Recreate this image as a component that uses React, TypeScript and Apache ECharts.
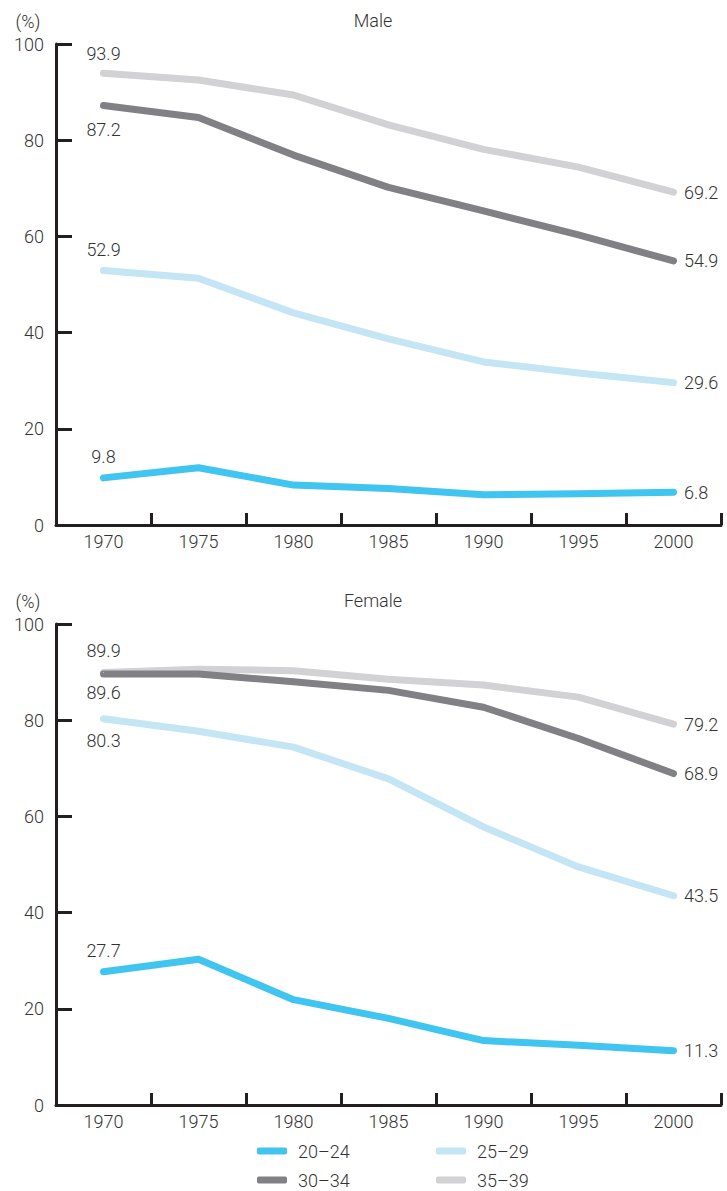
import React, { useEffect, useRef } from "react";
import * as echarts from "echarts";

const years = ["1970", "1975", "1980", "1985", "1990", "1995", "2000"];
const groups = ["20–24", "25–29", "30–34", "35–39"];

const male2024 = [9.8, 11.9, 8.3, 7.6, 6.3, 6.5, 6.8];
const male2529 = [52.9, 51.3, 44.1, 38.7, 33.9, 31.6, 29.6];
const male3034 = [87.2, 84.7, 76.9, 70.2, 65.3, 60.3, 54.9];
const male3539 = [93.9, 92.5, 89.4, 83.2, 78.1, 74.4, 69.2];

const female2024 = [27.7, 30.3, 21.9, 18.0, 13.4, 12.4, 11.3];
const female2529 = [80.3, 77.7, 74.4, 67.8, 57.8, 49.5, 43.5];
const female3034 = [89.6, 89.6, 88.0, 86.2, 82.7, 76.2, 68.9];
const female3539 = [89.9, 90.6, 90.3, 88.5, 87.3, 84.8, 79.2];

const colors: Record<string, string> = {
  "20–24": "#40C4F0",
  "25–29": "#C3E5F4",
  "30–34": "#808085",
  "35–39": "#D2D2D4",
};

const FONT = "Roboto";
const TXT = "#333";

export default function App() {
  const ref = useRef<HTMLDivElement>(null);
  useEffect(() => {
    if (!ref.current) return;
    const chart = echarts.init(ref.current, undefined, { renderer: "svg" });

    const mkData = (vals: number[], firstPos: string, firstDist: number) =>
      vals.map((v, i) => {
        if (i === 0)
          return { value: v, label: { show: true, position: firstPos, distance: firstDist } };
        if (i === vals.length - 1)
          return { value: v, label: { show: true, position: "right", distance: 10 } };
        return { value: v };
      });

    const mkSeries = (name: string, vals: number[], idx: number, pos: string, dist: number) => ({
      type: "line",
      name,
      xAxisIndex: idx,
      yAxisIndex: idx,
      data: mkData(vals, pos, dist),
      symbol: "circle",
      symbolSize: 1,
      itemStyle: { color: colors[name] },
      lineStyle: { color: colors[name], width: 7, cap: "round", join: "round" },
      label: {
        show: false,
        fontFamily: FONT,
        fontWeight: 300,
        fontSize: 18,
        color: TXT,
        formatter: (p: any) => p.value.toFixed(1),
      },
      emphasis: { disabled: true },
    });

    const axisLine = { show: true, lineStyle: { color: "#231f20", width: 3 } };
    const mkX = (idx: number) => ({
      type: "category",
      gridIndex: idx,
      data: years,
      boundaryGap: true,
      axisLine,
      axisTick: { show: true, inside: true, length: 12, lineStyle: { color: "#231f20", width: 3 } },
      axisLabel: { fontFamily: FONT, fontWeight: 300, fontSize: 18, color: TXT, margin: 7 },
    });
    const mkY = (idx: number) => ({
      type: "value",
      gridIndex: idx,
      min: 0,
      max: 100,
      interval: 20,
      splitLine: { show: false },
      axisLine,
      axisTick: { show: true, inside: true, length: 16, lineStyle: { color: "#231f20", width: 3 } },
      axisLabel: {
        fontFamily: FONT,
        fontWeight: 300,
        fontSize: 18,
        color: TXT,
        margin: 12,
        padding: [8, 0, 0, 0],
      },
    });

    const legendPos = [
      { left: 257, top: 1142 },
      { left: 436, top: 1142 },
      { left: 257, top: 1171 },
      { left: 436, top: 1171 },
    ];

    const titleText = (text: string, x: number, y: number) => ({
      type: "text",
      x,
      y,
      style: {
        text,
        fontFamily: FONT,
        fontWeight: 300,
        fontSize: 18,
        fill: TXT,
        align: "center",
        verticalAlign: "middle",
      },
    });

    chart.setOption({
      animation: false,
      grid: [
        { left: 56, right: 6, top: 44, height: 481 },
        { left: 56, right: 6, top: 624, height: 481 },
      ],
      xAxis: [mkX(0), mkX(1)],
      yAxis: [mkY(0), mkY(1)],
      legend: groups.map((g, i) => ({
        data: [g],
        left: legendPos[i].left,
        top: legendPos[i].top,
        padding: 0,
        icon: "roundRect",
        itemWidth: 30,
        itemHeight: 7,
        selectedMode: false,
        textStyle: {
          fontFamily: FONT,
          fontWeight: 300,
          fontSize: 18,
          color: TXT,
          padding: [0, 0, 0, 6],
        },
      })),
      graphic: [
        titleText("(%)", 28, 21),
        titleText("Male", 373, 20),
        titleText("(%)", 28, 601),
        titleText("Female", 373, 600),
      ],
      series: [
        mkSeries("35–39", male3539, 0, "top", 10),
        mkSeries("30–34", male3034, 0, "bottom", 14),
        mkSeries("25–29", male2529, 0, "top", 12),
        mkSeries("20–24", male2024, 0, "top", 12),
        mkSeries("35–39", female3539, 1, "top", 13),
        mkSeries("30–34", female3034, 1, "bottom", 9),
        mkSeries("25–29", female2529, 1, "bottom", 12),
        mkSeries("20–24", female2024, 1, "top", 12),
      ],
    });
    return () => chart.dispose();
  }, []);

  return (
    <div
      ref={ref}
      style={{ position: "fixed", left: 0, top: 0, width: 727, height: 1191, background: "#fff" }}
    />
  );
}
